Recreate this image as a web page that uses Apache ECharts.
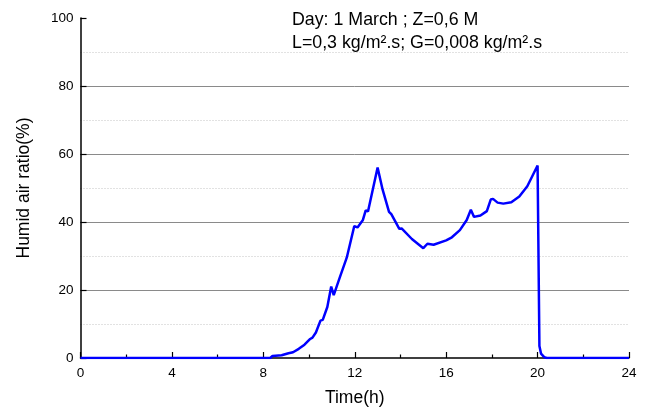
<!DOCTYPE html>
<html>
<head>
<meta charset="utf-8">
<script src="https://cdn.jsdelivr.net/npm/echarts@6/dist/echarts.min.js"></script>
<style>html,body{margin:0;padding:0;background:#fff}#c{width:648px;height:413px}</style>
</head>
<body>
<div id="c"></div>
<script>
var timeH = [0, 8.3, 8.4, 8.8, 9.1, 9.3, 9.55, 9.8, 10.05, 10.15, 10.3, 10.5, 10.6, 10.8, 10.97, 11.08, 11.35, 11.65, 11.98, 12.12, 12.35, 12.48, 12.58, 13.0, 13.22, 13.5, 13.6, 13.95, 14.05, 14.5, 15.0, 15.18, 15.45, 16.0, 16.25, 16.6, 16.9, 17.08, 17.22, 17.5, 17.78, 17.95, 18.05, 18.25, 18.5, 18.85, 19.2, 19.55, 20.0, 20.08, 20.15, 20.3, 20.4, 24];
var humidRatio = [0, 0, 0.6, 0.8, 1.4, 1.7, 2.7, 3.9, 5.6, 6.0, 7.5, 11.0, 11.2, 15.0, 21.0, 18.5, 23.8, 29.5, 38.8, 38.4, 40.5, 43.4, 43.1, 56.0, 49.5, 43.0, 42.3, 38.0, 38.1, 35.0, 32.3, 33.6, 33.3, 34.6, 35.5, 37.6, 40.6, 43.6, 41.5, 41.9, 43.2, 46.6, 46.8, 45.7, 45.4, 45.8, 47.5, 50.5, 56.6, 3.5, 1.3, 0.2, 0, 0];
var xTicks = [0, 4, 8, 12, 16, 20, 24];
var yTicks = [0, 20, 40, 60, 80, 100];
var noteLines = ['Day: 1 March ; Z=0,6 M', 'L=0,3 kg/m\u00B2.s; G=0,008 kg/m\u00B2.s'];

var FONT = '"Liberation Sans", Arial, sans-serif';
var chart = echarts.init(document.getElementById('c'), null, {renderer: 'canvas'});
var pts = timeH.map(function (t, i) { return [t, humidRatio[i]]; });

chart.setOption({
  animation: false,
  backgroundColor: '#ffffff',
  grid: {left: 80.5, right: 19, top: 18, bottom: 55, outerBoundsMode: 'none'},
  xAxis: {
    type: 'value', min: xTicks[0], max: xTicks[xTicks.length - 1], interval: 4,
    name: 'Time(h)', nameLocation: 'middle', nameGap: 31,
    nameTextStyle: {fontFamily: FONT, fontSize: 17.5, color: '#000'},
    axisLine: {lineStyle: {color: '#000', width: 1.5}},
    axisTick: {inside: true, length: 6, lineStyle: {color: '#000', width: 1.2}},
    minorTick: {show: true, splitNumber: 2, length: 3.5, lineStyle: {color: '#000', width: 1.2}},
    axisLabel: {fontFamily: FONT, fontSize: 13.5, color: '#000', margin: 8},
    splitLine: {show: false}
  },
  yAxis: {
    type: 'value', min: yTicks[0], max: yTicks[yTicks.length - 1], interval: 20,
    name: 'Humid air ratio(%)', nameLocation: 'middle', nameGap: 47,
    nameTextStyle: {fontFamily: FONT, fontSize: 17.5, color: '#000'},
    axisLine: {show: true, lineStyle: {color: '#000', width: 1.5}},
    axisTick: {show: true, inside: true, length: 6, lineStyle: {color: '#000', width: 1.2}},
    minorTick: {show: false, splitNumber: 2},
    axisLabel: {fontFamily: FONT, fontSize: 13.5, color: '#000', margin: 7},
    splitLine: {show: true, showMinLine: false, showMaxLine: false, lineStyle: {color: '#8a8a8a', width: 1}},
    minorSplitLine: {show: true, lineStyle: {color: '#c4c4c4', width: 1, type: [1, 2]}}
  },
  graphic: [
    {type: 'text', left: 292, top: 11, style: {text: noteLines[0], font: '17.8px ' + FONT, fill: '#000'}},
    {type: 'text', left: 292, top: 34, style: {text: noteLines[1], font: '17.8px ' + FONT, fill: '#000'}}
  ],
  series: [{
    type: 'line', data: pts, showSymbol: false, symbol: 'none', smooth: false,
    lineStyle: {color: '#0000ff', width: 2.5}, clip: true
  }]
});
</script>
</body>
</html>
